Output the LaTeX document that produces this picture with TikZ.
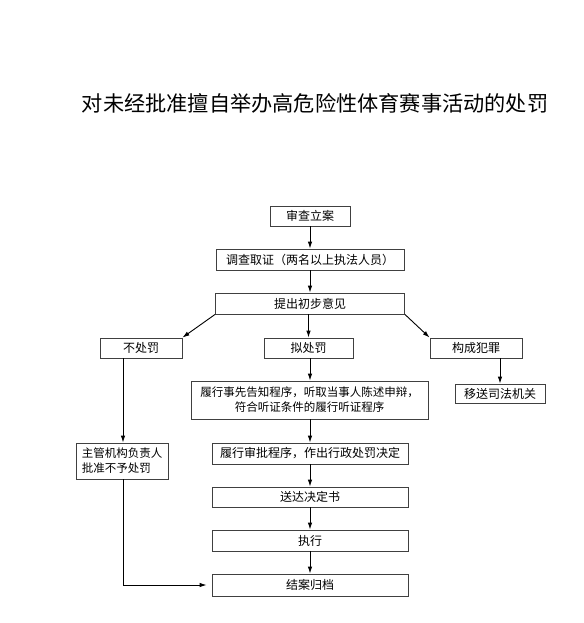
\documentclass[tikz,border=0pt]{standalone}
\usepackage{fontspec}
\setmainfont{Noto Sans CJK SC}
\usetikzlibrary{arrows.meta}
\begin{document}
\begin{tikzpicture}[x=1pt,y=-1pt,
  box/.style={draw=black!75,line width=0.8pt,inner sep=1pt,align=center,font=\fontsize{12}{14}\selectfont},
  arr/.style={line width=0.9pt,-{Latex[length=7pt,width=4.5pt]}}]
\useasboundingbox (0,0) rectangle (583,623);
\node[font=\fontsize{21.2}{24}\selectfont] (title) at (315,103) {对未经批准擅自举办高危险性体育赛事活动的处罚};
\node[box,minimum width=80pt,minimum height=20pt] (n1) at (310,216) {审查立案};
\node[box,minimum width=188pt,minimum height=21pt] (n2) at (310,259.5) {调查取证（两名以上执法人员）};
\node[box,minimum width=189pt,minimum height=21pt] (n3) at (310,303.5) {提出初步意见};
\node[box,minimum width=82pt,minimum height=20pt] (n4) at (141,348) {不处罚};
\node[box,minimum width=89pt,minimum height=20pt] (n5) at (308.5,348) {拟处罚};
\node[box,minimum width=92pt,minimum height=20pt] (n6) at (476,348) {构成犯罪};
\node[box,minimum width=237pt,minimum height=38pt,font=\fontsize{11.5}{15}\selectfont] (n7) at (309.5,400) {履行事先告知程序，听取当事人陈述申辩，\\符合听证条件的履行听证程序};
\node[box,minimum width=90pt,minimum height=19pt] (n8) at (500,393.5) {移送司法机关};
\node[box,minimum width=92pt,minimum height=36pt,align=left,font=\fontsize{11.5}{15}\selectfont] (n9) at (122,461) {主管机构负责人\\批准不予处罚};
\node[box,minimum width=196pt,minimum height=21pt] (n10) at (310,453.5) {履行审批程序，作出行政处罚决定};
\node[box,minimum width=196pt,minimum height=20pt] (n11) at (310,497) {送达决定书};
\node[box,minimum width=196pt,minimum height=21pt] (n12) at (310,540.5) {执行};
\node[box,minimum width=196pt,minimum height=22pt] (n13) at (310,585) {结案归档};
\coordinate (c1) at (123,585);
\draw[arr] (n1) -- (n2);
\draw[arr] (n2) -- (n3);
\draw[arr] (n3.south west) -- (n4.north east);
\draw[arr] (n3.south -| n5) -- (n5);
\draw[arr] (n3.south east) -- (n6.north west);
\draw[arr] (n5.south -| n10) -- (n7.north -| n10);
\draw[arr] (n6.south -| n8) -- (n8);
\draw[arr] (n4.south -| c1) -- (n9.north -| c1);
\draw[arr] (n7.south -| n10) -- (n10);
\draw[arr] (n10) -- (n11);
\draw[arr] (n11) -- (n12);
\draw[arr] (n12) -- (n13);
\draw[arr] (n9.south -| c1) -- (c1) -- ([xshift=-5pt]n13.west);
\end{tikzpicture}
\end{document}
